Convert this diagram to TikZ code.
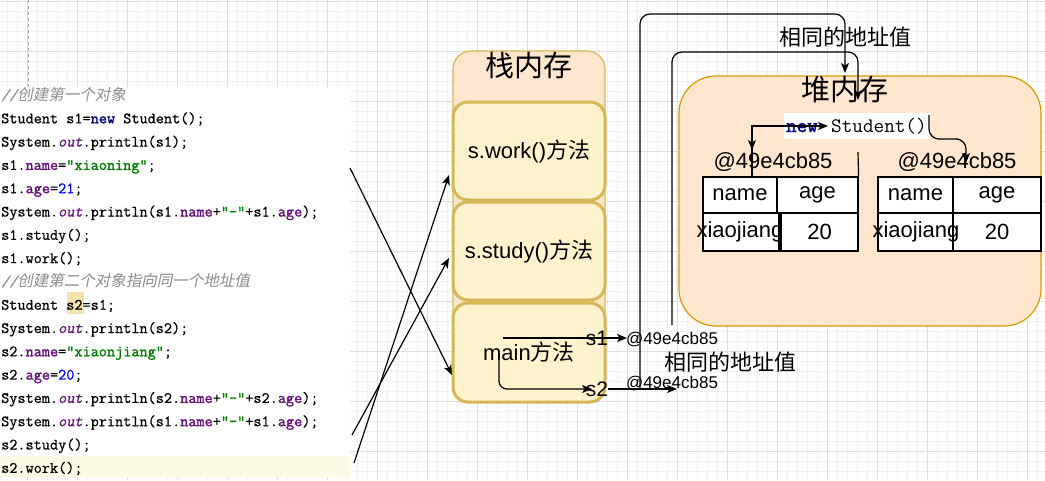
\documentclass[tikz,border=0pt]{standalone}
\usepackage{fontspec}
\setmainfont{Liberation Sans}
\newfontfamily\cjk{Noto Sans CJK SC}
\newfontfamily\cjkit{Noto Sans CJK SC}[FakeSlant=0.2]
\newfontfamily\cf{Latin Modern Mono}
\newfontfamily\cfr{Latin Modern Mono}[FakeBold=0.6]
\newfontfamily\cfb{Latin Modern Mono}[FakeBold=1.6]
\newfontfamily\cfi{Latin Modern Mono}[FakeSlant=0.22,FakeBold=0.6]
\usetikzlibrary{arrows.meta}
\definecolor{kwc}{HTML}{000080}
\definecolor{fldc}{HTML}{660E7A}
\definecolor{strc}{HTML}{008000}
\definecolor{numc}{HTML}{0000FF}
\definecolor{cmtc}{HTML}{8C8C8C}
\definecolor{hlc}{HTML}{F3E2AA}
\definecolor{linehl}{HTML}{FEFBE4}
\definecolor{stackfill}{HTML}{FFE6CC}
\definecolor{framefill}{HTML}{FFF2CC}
\definecolor{framedraw}{HTML}{D6B656}
\definecolor{heapdraw}{HTML}{D79B00}
\definecolor{gminorc}{HTML}{F1F1F1}
\definecolor{gmajorc}{HTML}{DEDEDE}
\newcommand\kwd[1]{{\color{kwc}\cfb #1}}
\newcommand\fld[1]{{\color{fldc}\cfb #1}}
\newcommand\strg[1]{{\color{strc}\cfb #1}}
\newcommand\numb[1]{{\color{numc}#1}}
\newcommand\outk{{\color{fldc}\cfi out}}
\newcommand\cmt[1]{{\color{cmtc}\cfi //\cjkit\fontsize{15.5}{18}\selectfont #1}}
\newcommand\zhs[1]{{\cjk #1}}
\tikzset{
  gminor/.style={draw=gminorc, line width=0.6pt},
  gmajor/.style={draw=gmajorc, line width=0.8pt},
  codeline/.style={anchor=base west, inner sep=0pt, font=\cfr\fontsize{15.8}{18}\selectfont},
  frame/.style={draw=framedraw, fill=framefill, line width=3pt, rounded corners=15pt, minimum width=152pt, inner sep=0pt, font=\fontsize{22}{24}\selectfont},
  cell/.style={draw=black, fill=white, line width=1.2pt, inner sep=0pt, font=\fontsize{22}{24}\selectfont},
  lbl/.style={inner sep=0pt, font=\fontsize{22}{24}\selectfont},
  addr/.style={inner sep=0pt, font=\fontsize{17}{19}\selectfont},
  title/.style={inner sep=0pt, font=\cjk\fontsize{29}{31}\selectfont},
  conn/.style={draw=black, line width=1.2pt},
  arr/.style={conn, -{Stealth[length=10pt,width=8pt,inset=2.5pt]}},
}
\begin{document}
\begin{tikzpicture}[x=1pt,y=-1pt]
\useasboundingbox (0,0) rectangle (1045,480);
\fill[white] (0,0) rectangle (1045,480);
% grid
\foreach \x in {7,17,...,1045} \draw[gminor] (\x,0) -- (\x,480);
\foreach \y in {1.5,11.5,...,480} \draw[gminor] (0,\y) -- (1045,\y);
\foreach \x in {27,77,...,1045} \draw[gmajor] (\x,0) -- (\x,480);
\foreach \y in {1.5,51.5,...,480} \draw[gmajor] (0,\y) -- (1045,\y);
\draw[gray!70, dashed, line width=0.8pt] (28,0) -- (28,88);
% code panel
\fill[white] (0,87) rectangle (350,477);
\fill[linehl] (0,456) rectangle (350,477);
\fill[hlc] (67,292) rectangle (84,314);
\node[codeline] (c0) at (1,100) {\cmt{创建第一个对象}};
\node[codeline] (c1) at (1,123.3) {Student s1=\kwd{new} Student();};
\node[codeline] (c2) at (1,146.6) {System.\outk.println(s1);};
\node[codeline] (c3) at (1,169.9) {s1.\fld{name}=\strg{"xiaoning"};};
\node[codeline] (c4) at (1,193.2) {s1.\fld{age}=\numb{21};};
\node[codeline] (c5) at (1,216.5) {System.\outk.println(s1.\fld{name}+\strg{"-"}+s1.\fld{age});};
\node[codeline] (c6) at (1,239.8) {s1.study();};
\node[codeline] (c7) at (1,263.1) {s1.work();};
\node[codeline] (c8) at (1,286.4) {\cmt{创建第二个对象指向同一个地址值}};
\node[codeline] (c9) at (1,309.7) {Student s2=s1;};
\node[codeline] (c10) at (1,333) {System.\outk.println(s2);};
\node[codeline] (c11) at (1,356.3) {s2.\fld{name}=\strg{"xiaonjiang"};};
\node[codeline] (c12) at (1,379.6) {s2.\fld{age}=\numb{20};};
\node[codeline] (c13) at (1,402.9) {System.\outk.println(s2.\fld{name}+\strg{"-"}+s2.\fld{age});};
\node[codeline] (c14) at (1,426.2) {System.\outk.println(s1.\fld{name}+\strg{"-"}+s1.\fld{age});};
\node[codeline] (c15) at (1,449.5) {s2.study();};
\node[codeline] (c16) at (1,472.8) {s2.work();};
% stack
\node[draw=framedraw, fill=stackfill, line width=1.2pt, rounded corners=18pt, minimum width=152pt, minimum height=351pt, inner sep=0pt] (stack) at (529,226.5) {};
\node[title] (stacktitle) at (529,66) {栈内存};
\node[frame, minimum height=98pt] (work) at (529,151) {s.work()\zhs{方法}};
\node[frame, minimum height=98pt] (study) at (529,251) {s.study()\zhs{方法}};
\node[frame, minimum height=99pt] (mainm) at (529,352.5) {};
\node[lbl] (maintext) at (529,352) {main\zhs{方法}};
% heap
\node[draw=heapdraw, fill=stackfill, line width=1.2pt, rounded corners=37pt, minimum width=362pt, minimum height=250pt, inner sep=0pt] (heap) at (860,201) {};
\node[title] (heaptitle) at (845,90) {堆内存};
\node[fill=white, minimum width=146pt, minimum height=26pt, inner sep=0pt] (newbox) at (857,126) {};
\node[anchor=base west, inner sep=0pt, font=\cfb\fontsize{20.4}{22}\selectfont, text=kwc] (newkw) at (786,132) {new};
\node[anchor=base west, inner sep=0pt, font=\cf\fontsize{20.6}{22}\selectfont] (stud) at (831,132) {Student()};
% left object
\node[lbl] (addrA) at (773,162) {@49e4cb85};
\node[cell, minimum width=74pt, minimum height=36pt] (nameA) at (740,195) {name};
\node[cell, minimum width=81pt, minimum height=36pt] (ageA) at (817.5,195) {age};
\node[cell, minimum width=76pt, minimum height=38pt] (xA) at (741,232) {};
\node[cell, minimum width=77pt, minimum height=38pt] (vA) at (819.5,232) {20};
\node[lbl] (xAt) at (740,232) {xiaojiang};
\coordinate (ageAtop) at (858,152);
\draw[conn] (ageAtop) -- (ageA.north east);
% right object
\node[lbl] (addrB) at (957,162) {@49e4cb85};
\node[cell, minimum width=75pt, minimum height=36pt] (nameB) at (915.5,195) {name};
\node[cell, minimum width=88pt, minimum height=36pt] (ageB) at (997,195) {age};
\node[cell, minimum width=75pt, minimum height=38pt] (xB) at (915.5,232) {};
\node[cell, minimum width=88pt, minimum height=38pt] (vB) at (997,232) {20};
\node[lbl] (xBt) at (916,232) {xiaojiang};
% heap arrows
\coordinate (hA) at (752,177);
\coordinate (hB) at (752,126);
\coordinate (hC) at (828,126);
\coordinate (hD) at (752,150);
\draw[arr] (hA) -- (hB) -- (hC);
\draw[arr] (hB) -- (hD);
\coordinate (rA) at (929,115);
\coordinate (rB) at (966,163);
\draw[arr, rounded corners=10pt] (rA) |- (948,139) -| (rB);
% code -> stack arrows
\coordinate (a1) at (350,168);
\coordinate (a2) at (352,435);
\coordinate (a3) at (354,463);
\draw[arr] (a1) -- (452,375);
\draw[arr] (a2) -- (449,258);
\draw[arr] (a3) -- (449,175);
% s1 / s2
\coordinate (s1start) at (503,338);
\coordinate (s1end) at (627,338);
\draw[arr] (s1start) -- (s1end);
\node[inner sep=0pt, font=\fontsize{21}{23}\selectfont] (s1) at (597,338) {s1};
\node[addr] (addr1) at (672,340) {@49e4cb85};
\coordinate (s2start) at (499,353);
\coordinate (s2tip) at (592,389);
\draw[arr, rounded corners=8pt] (s2start) |- (s2tip);
\node[inner sep=0pt, font=\fontsize{21}{23}\selectfont] (s2) at (597,389) {s2};
\coordinate (s2end) at (677,389);
\draw[arr] (s2.east) -- (s2end);
\node[addr] (addr2) at (672,384) {@49e4cb85};
\node[lbl, font=\cjk\fontsize{22}{24}\selectfont] (same1) at (730,362) {相同的地址值};
% big connectors
\coordinate (b1) at (640,389);
\coordinate (b1end) at (845,73);
\draw[arr, rounded corners=10pt] (b1) -- (640,14) -- (845,14) -- (b1end);
\coordinate (b2) at (672,325);
\coordinate (b2end) at (858,100);
\draw[arr, rounded corners=10pt] (b2) -- (672,52) -- (858,52) -- (b2end);
\node[lbl, font=\cjk\fontsize{22}{24}\selectfont] (same2) at (845,37) {相同的地址值};
\end{tikzpicture}
\end{document}
